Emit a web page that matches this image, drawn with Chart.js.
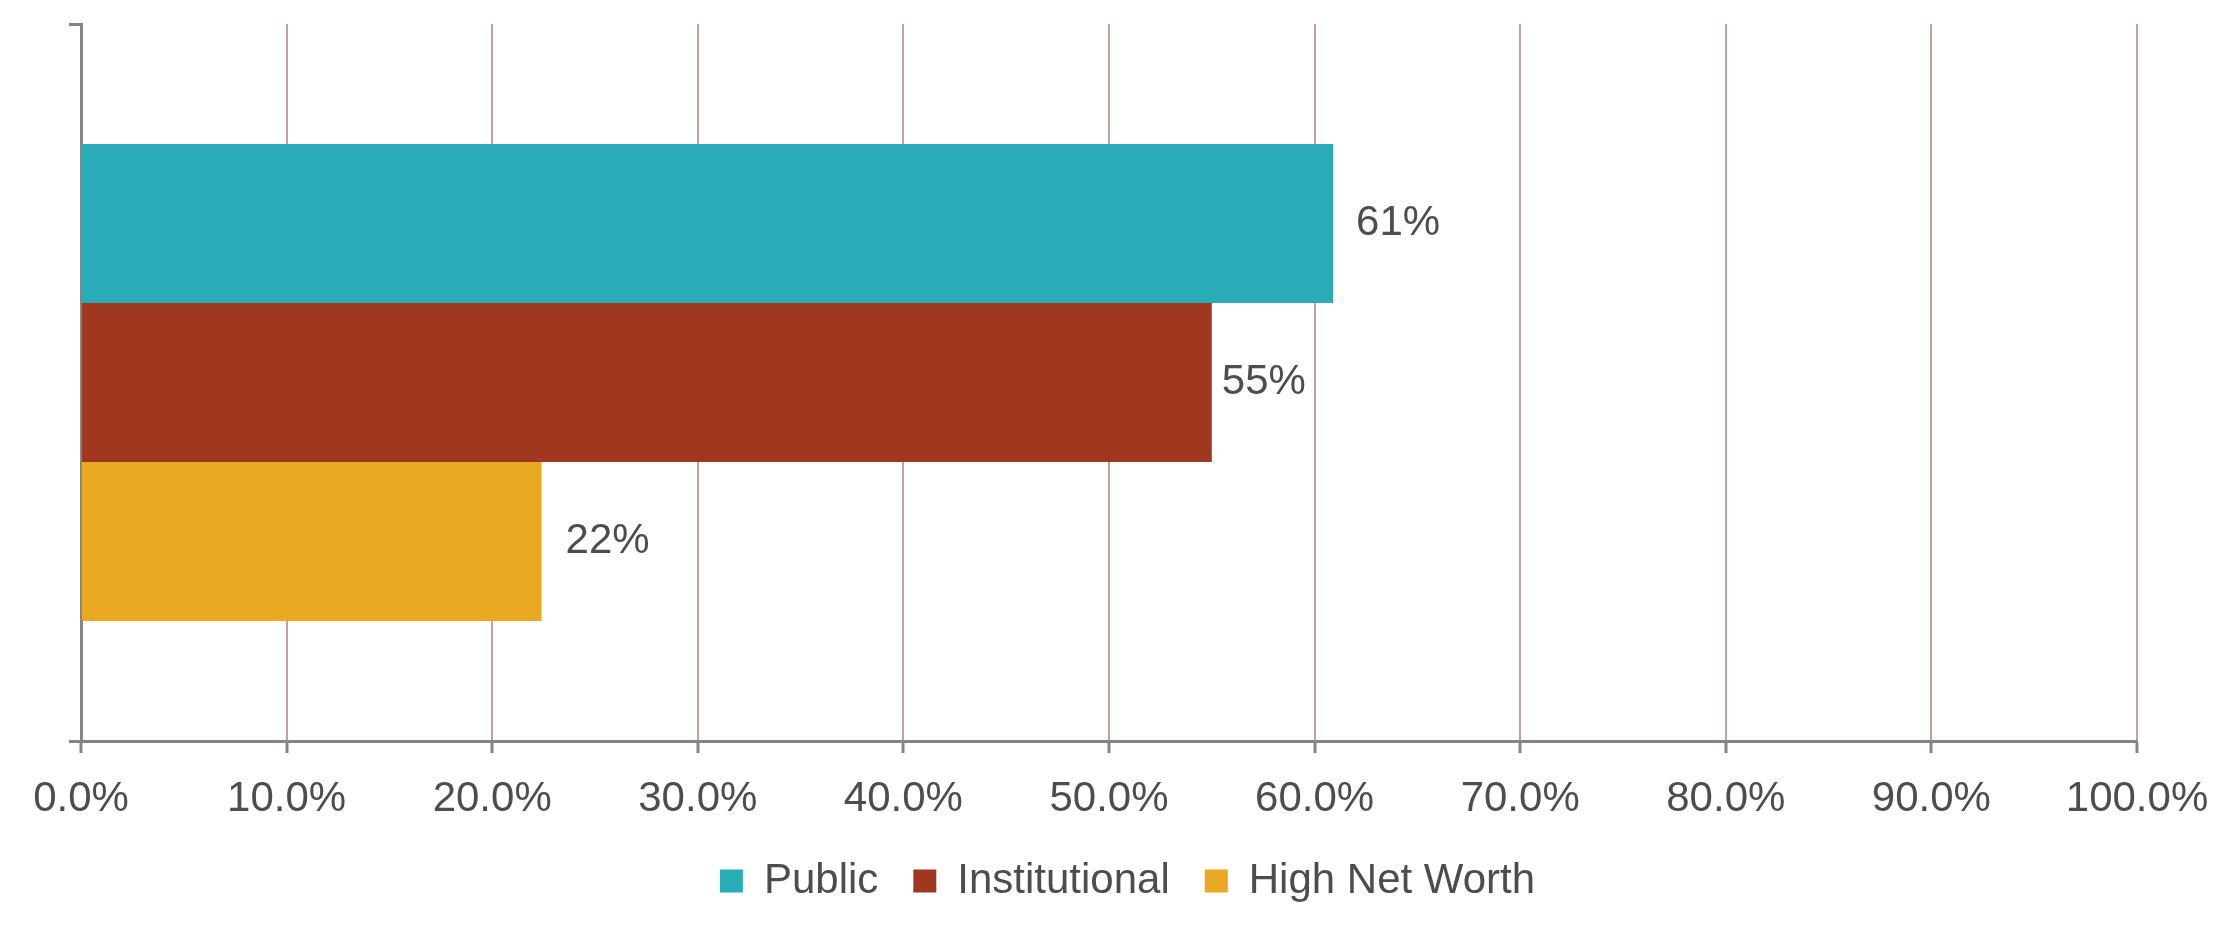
<!DOCTYPE html>
<html>
<head>
<meta charset="utf-8">
<script src="https://cdn.jsdelivr.net/npm/chart.js@4.4.1/dist/chart.umd.min.js"></script>
<style>
  html,body{margin:0;padding:0;background:#fff;}
  #wrap{position:relative;width:2238px;height:938px;}
</style>
</head>
<body>
<div id="wrap"><canvas id="c"></canvas></div>
<script>
// data
const categories = [''];
const seriesNames = ['Public','Institutional','High Net Worth'];
const publicVals = [60.9];
const institutionalVals = [55.0];
const hnwVals = [22.4];
const xTicks = [0,10,20,30,40,50,60,70,80,90,100];

const COLORS = ['#2AABB8','#A0381F','#EAA922'];
const FONT = "'Liberation Sans',Arial,sans-serif";
const FSIZE = 42;
const TXT = '#4d4d4d';
const AXIS = '#858585';
const GRID = '#c9a097';
const LEGEND_SHIFT = 59; // legend sits a bit right of the plot centre

// value labels to the right of each bar
const barLabels = {
  id:'barLabels',
  afterDatasetsDraw(chart, args, opts){
    const ctx = chart.ctx;
    ctx.save();
    ctx.font = `${opts.size}px ${FONT}`;
    ctx.fillStyle = TXT;
    ctx.textBaseline = 'middle';
    ctx.textAlign = 'left';
    chart.data.datasets.forEach((ds,i)=>{
      const meta = chart.getDatasetMeta(i);
      meta.data.forEach((bar,j)=>{
        const off = (opts.offsets||[])[i] ?? 12;
        ctx.fillText(Math.round(ds.data[j])+'%', bar.x+off, bar.y);
      });
    });
    ctx.restore();
  }
};

const legendShift = {
  id:'legendShift',
  afterLayout(chart){
    const l = chart.legend; if(!l) return;
    l.left += LEGEND_SHIFT; l.right += LEGEND_SHIFT;
  }
};

const vals = [publicVals, institutionalVals, hnwVals];

new Chart(document.getElementById('c'),{
  type:'bar',
  data:{
    labels:categories,
    datasets:seriesNames.map((n,i)=>({
      label:n, data:vals[i], backgroundColor:COLORS[i], borderWidth:0,
      categoryPercentage:0.665, barPercentage:1
    }))
  },
  options:{
    indexAxis:'y',
    responsive:true, maintainAspectRatio:false, animation:false,
    layout:{padding:{top:24,right:101,left:0,bottom:26}},
    plugins:{
      legend:{position:'bottom',
        labels:{font:{family:FONT,size:FSIZE},color:TXT,boxWidth:23,boxHeight:23,padding:35}},
      tooltip:{enabled:false},
      barLabels:{size:FSIZE, offsets:[23,10,24]}
    },
    scales:{
      x:{min:0,max:100,
        afterBuildTicks:s=>{ s.ticks = xTicks.map(v=>({value:v})); },
        afterFit:s=>{ s.height = 84; },
        ticks:{callback:v=>v.toFixed(1)+'%',font:{family:FONT,size:FSIZE},color:TXT,padding:21,maxRotation:0},
        grid:{color:GRID,lineWidth:2,tickColor:AXIS,tickLength:12,tickWidth:3},
        border:{color:AXIS,width:3}},
      y:{
        ticks:{display:true,font:{size:1}},
        grid:{drawOnChartArea:false,color:AXIS,tickLength:12,lineWidth:3},
        border:{color:AXIS,width:3},
        afterFit:s=>{ s.width = 81; }}
    }
  },
  plugins:[barLabels, legendShift]
});
</script>
</body>
</html>
